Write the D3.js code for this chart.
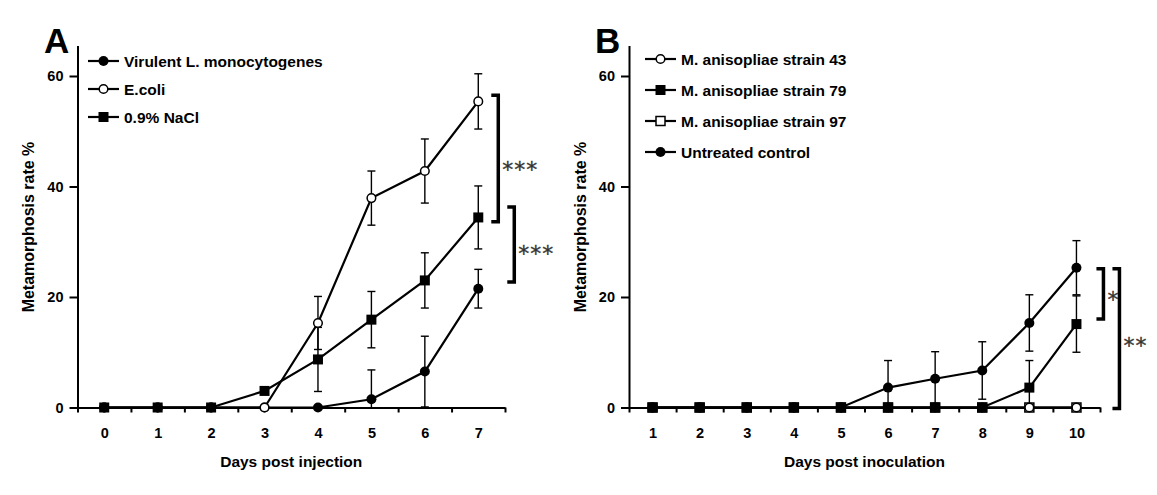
<!DOCTYPE html>
<html>
<head>
<meta charset="utf-8">
<script src="https://cdn.jsdelivr.net/npm/d3@7"></script>
<style>
body { margin: 0; background: #fff; }
svg { display: block; font-family: Arial, "Liberation Sans", sans-serif; }
.axis .domain, .axis line { stroke: #000; stroke-width: 2; }
.axis text { fill: #000; font-size: 14.5px; font-weight: bold; font-family: Arial, "Liberation Sans", sans-serif; }
.title { font-size: 15.5px; font-weight: bold; }
.ylabel { font-size: 16px; font-weight: bold; }
.legend text { font-size: 15.5px; font-weight: bold; }
.letter { font-size: 35px; font-weight: bold; }
.stars { font-family: "DejaVu Sans", sans-serif; font-size: 22px; fill: #333; stroke: #333; stroke-width: 0.3; }
</style>
</head>
<body>
<div id="chart"></div>
<script>
var width = 1157,
    height = 495;

// panel A - days post injection
var daysA = [0, 1, 2, 3, 4, 5, 6, 7];
var virulent = [0, 0, 0, 0, 0, 1.5, 6.5, 21.5];
var virulentErr = [0, 0, 0, 0, 0, 5.3, 6.4, 3.5];
var ecoli = [0, 0, 0, 0, 15.3, 37.9, 42.8, 55.4];
var ecoliErr = [0, 0, 0, 0, 4.8, 4.9, 5.8, 5.0];
var nacl = [0, 0, 0, 3.0, 8.7, 15.9, 23.0, 34.4];
var naclErr = [0, 0, 0, 0, 5.8, 5.1, 5.0, 5.7];

// panel B - days post inoculation
var daysB = [1, 2, 3, 4, 5, 6, 7, 8, 9, 10];
var strain43 = [0, 0, 0, 0, 0, 0, 0, 0, 0, 0];
var strain79 = [0, 0, 0, 0, 0, 0, 0, 0, 3.6, 15.1];
var strain79Err = [0, 0, 0, 0, 0, 0, 0, 0, 4.9, 5.1];
var strain97 = [0, 0, 0, 0, 0, 0, 0, 0, 0, 0];
var control = [0, 0, 0, 0, 0, 3.6, 5.2, 6.7, 15.3, 25.3];
var controlErr = [0, 0, 0, 0, 0, 4.9, 4.9, 5.2, 5.1, 4.9];

var yTicks = [0, 20, 40, 60];

var svg = d3.select("#chart").append("svg")
    .attr("width", width)
    .attr("height", height);

var y = d3.scaleLinear()
    .domain([0, 65.5])
    .range([407.5, 45.6]);

function marker(sel, shape, filled) {
    if (shape === "circle") {
        sel.append("circle")
            .attr("r", filled ? 5 : 4.3)
            .attr("fill", filled ? "#000" : "#fff")
            .attr("stroke", "#000")
            .attr("stroke-width", filled ? 0 : 1.5);
    } else {
        var s = filled ? 10 : 9;
        sel.append("rect")
            .attr("x", -s / 2).attr("y", -s / 2)
            .attr("width", s).attr("height", s)
            .attr("fill", filled ? "#000" : "#fff")
            .attr("stroke", "#000")
            .attr("stroke-width", filled ? 0 : 1.5);
    }
}

function drawPanel(p) {
    var g = svg.append("g");
    var first = p.days[0],
        last = p.days[p.days.length - 1];

    var x = d3.scaleLinear()
        .domain([first - 0.5, last + 0.5])
        .range([p.left, p.right]);

    var edges = p.days.map(function (d) { return d - 0.5; }).concat([last + 0.5]);

    // x axis, ticks between days
    g.append("g")
        .attr("class", "axis")
        .attr("transform", "translate(0," + y(0) + ")")
        .call(d3.axisBottom(x).tickValues(edges).tickSize(5).tickSizeOuter(0).tickFormat(""));

    g.append("g")
        .attr("class", "axis")
        .attr("transform", "translate(0," + y(0) + ")")
        .call(d3.axisBottom(x).tickValues(p.days).tickSize(0).tickPadding(20).tickFormat(d3.format("d")))
        .call(function (a) { a.select(".domain").remove(); });

    g.append("g")
        .attr("class", "axis")
        .attr("transform", "translate(" + p.left + ",0)")
        .call(d3.axisLeft(y).tickValues(yTicks).tickSize(8).tickSizeOuter(0).tickPadding(6));

    g.append("text")
        .attr("class", "title")
        .attr("x", (p.left + p.right) / 2)
        .attr("y", 467)
        .attr("text-anchor", "middle")
        .text(p.xTitle);

    g.append("text")
        .attr("class", "ylabel")
        .attr("transform", "translate(" + (p.left - 43.5) + ",227) rotate(-90)")
        .attr("text-anchor", "middle")
        .text("Metamorphosis rate %");

    g.append("text")
        .attr("class", "letter")
        .attr("x", p.letterX)
        .attr("y", 53)
        .text(p.letter);

    // error bars
    p.series.forEach(function (s) {
        s.values.forEach(function (v, i) {
            var e = s.err ? s.err[i] : 0;
            if (!e) return;
            var cx = x(p.days[i]);
            var eg = g.append("g").attr("stroke", "#000").attr("stroke-width", 1.4);
            eg.append("line").attr("x1", cx).attr("x2", cx).attr("y1", y(Math.max(0, v - e))).attr("y2", y(v + e));
            eg.append("line").attr("x1", cx - 4).attr("x2", cx + 4).attr("y1", y(v + e)).attr("y2", y(v + e));
            if (v - e > 0) {
                eg.append("line").attr("x1", cx - 4).attr("x2", cx + 4).attr("y1", y(v - e)).attr("y2", y(v - e));
            }
        });
    });

    var line = d3.line()
        .x(function (d, i) { return x(p.days[i]); })
        .y(function (d) { return y(d); });

    p.series.forEach(function (s) {
        g.append("path")
            .attr("d", line(s.values))
            .attr("fill", "none")
            .attr("stroke", "#000")
            .attr("stroke-width", 2.2);

        s.values.forEach(function (v, i) {
            var m = g.append("g").attr("transform", "translate(" + x(p.days[i]) + "," + y(v) + ")");
            marker(m, s.shape, s.filled);
        });
    });

    // legend
    var lg = g.append("g").attr("class", "legend");
    p.legend.forEach(function (s, i) {
        var row = lg.append("g")
            .attr("transform", "translate(" + p.legendX + "," + (p.legendY + i * p.legendStep) + ")");
        row.append("line")
            .attr("x1", 0).attr("x2", 31)
            .attr("stroke", "#000").attr("stroke-width", 2.2);
        marker(row.append("g").attr("transform", "translate(15.5,0)"), s.shape, s.filled);
        row.append("text")
            .attr("x", 36)
            .attr("dy", "0.36em")
            .text(s.name);
    });

    // significance brackets
    p.brackets.forEach(function (b) {
        var bx = x(last) + b.dx,
            y1 = y(b.top),
            y2 = y(b.bottom);
        g.append("path")
            .attr("d", "M" + (bx - 7) + "," + y1 + "H" + bx + "V" + y2 + "H" + (bx - 7))
            .attr("fill", "none")
            .attr("stroke", "#000")
            .attr("stroke-width", 3.5);
        g.append("text")
            .attr("class", "stars")
            .attr("x", bx + 4)
            .attr("y", (y1 + y2) / 2 + b.dy + 13)
            .attr("letter-spacing", "1px")
            .text(b.label);
    });
}

var seriesA = {
    virulent: { name: "Virulent L. monocytogenes", values: virulent, err: virulentErr, shape: "circle", filled: true },
    ecoli: { name: "E.coli", values: ecoli, err: ecoliErr, shape: "circle", filled: false },
    nacl: { name: "0.9% NaCl", values: nacl, err: naclErr, shape: "square", filled: true }
};

var seriesB = {
    s43: { name: "M. anisopliae strain 43", values: strain43, shape: "circle", filled: false },
    s79: { name: "M. anisopliae strain 79", values: strain79, err: strain79Err, shape: "square", filled: true },
    s97: { name: "M. anisopliae strain 97", values: strain97, shape: "square", filled: false },
    ctrl: { name: "Untreated control", values: control, err: controlErr, shape: "circle", filled: true }
};

drawPanel({
    days: daysA, left: 77.5, right: 505,
    xTitle: "Days post injection", letter: "A", letterX: 44,
    series: [seriesA.virulent, seriesA.ecoli, seriesA.nacl],
    legend: [seriesA.virulent, seriesA.ecoli, seriesA.nacl],
    legendX: 88, legendY: 61, legendStep: 28,
    brackets: [
        { dx: 20, top: 56.5, bottom: 33.6, label: "***", dy: 5 },
        { dx: 36, top: 36.3, bottom: 22.7, label: "***", dy: 3 }
    ]
});

drawPanel({
    days: daysB, left: 629, right: 1100,
    xTitle: "Days post inoculation", letter: "B", letterX: 595,
    series: [seriesB.s97, seriesB.s43, seriesB.ctrl, seriesB.s79],
    legend: [seriesB.s43, seriesB.s79, seriesB.s97, seriesB.ctrl],
    legendX: 645, legendY: 59, legendStep: 31,
    brackets: [
        { dx: 27, top: 25.1, bottom: 16.0, label: "*", dy: 0 },
        { dx: 43, top: 25.1, bottom: -0.2, label: "**", dy: 1 }
    ]
});
</script>
</body>
</html>
